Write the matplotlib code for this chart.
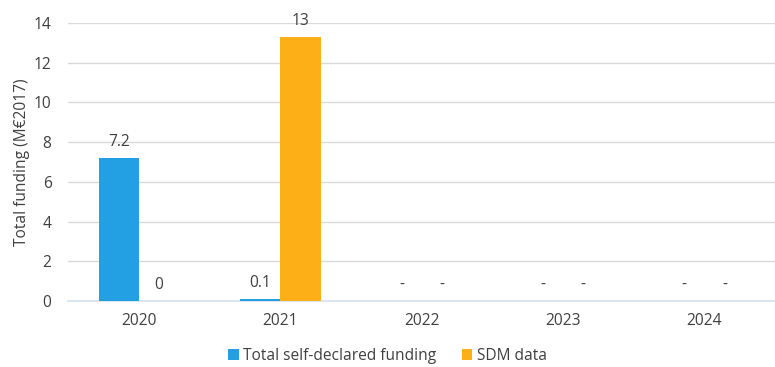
import numpy as np
import matplotlib.pyplot as plt

# chart data
years = ['2020', '2021', '2022', '2023', '2024']
self_declared = [7.2, 0.1, np.nan, np.nan, np.nan]
sdm_data = [0, 13.3, np.nan, np.nan, np.nan]
self_labels = ['7.2', '0.1', '-', '-', '-']
sdm_labels = ['0', '13', '-', '-', '-']

plt.rcParams['font.family'] = ['Open Sans', 'DejaVu Sans']
text_col = '#404040'
fs = 11.2

fig = plt.figure(figsize=(7.75, 3.67), dpi=100)
ax = fig.add_axes([0.088, 0.18, 0.912, 0.757])

x = np.arange(len(years))
w = 0.285
blue = '#23A0E3'
orange = '#FCAF17'

b1 = ax.bar(x - w / 2, np.nan_to_num(self_declared), w, color=blue,
            label='Total self-declared funding', zorder=3)
b2 = ax.bar(x + w / 2, np.nan_to_num(sdm_data), w, color=orange,
            label='SDM data', zorder=3)

for bars, labels in [(b1, self_labels), (b2, sdm_labels)]:
    for rect, lab in zip(bars, labels):
        ax.annotate(lab, (rect.get_x() + rect.get_width() / 2, rect.get_height()),
                    xytext=(0, 6), textcoords='offset points',
                    ha='center', va='bottom', fontsize=fs, color=text_col)

ax.set_xlim(-0.5, len(years) - 0.5)
ax.set_ylim(0, 14)
ax.set_yticks(range(0, 15, 2))
ax.set_xticks(x)
ax.set_xticklabels(years)
ax.tick_params(length=0, labelsize=fs, labelcolor=text_col)
ax.tick_params(axis='x', pad=9)
ax.tick_params(axis='y', pad=12)
ax.grid(axis='y', color='#D9D9D9', linewidth=1, zorder=0)
for s in ['top', 'right', 'left']:
    ax.spines[s].set_visible(False)
ax.spines['bottom'].set_color('#D6E1F0')
ax.spines['bottom'].set_linewidth(1.2)
ax.set_ylabel('Total funding (M€2017)', fontsize=fs, color=text_col, labelpad=3)

fig.legend(loc='lower center', bbox_to_anchor=(0.5, -0.03), ncol=2, frameon=False,
           fontsize=fs, handlelength=0.7, handleheight=0.7, handletextpad=0.3,
           columnspacing=1.6, labelcolor=text_col)

fig.savefig('out.png', dpi=100)
